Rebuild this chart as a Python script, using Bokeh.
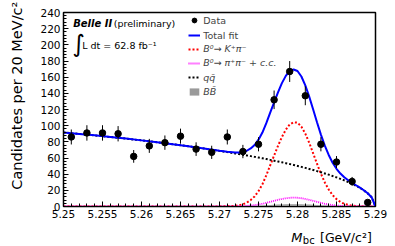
import numpy as np
from bokeh.plotting import figure
from bokeh.layouts import column
from bokeh.models import FixedTicker, Label, Legend, LegendItem, Range1d
from bokeh.embed import file_html
from bokeh.resources import INLINE

# ---------------- data ----------------
MBC = [5.251, 5.253, 5.255, 5.257, 5.259, 5.261, 5.263, 5.265, 5.267, 5.269,
       5.271, 5.273, 5.275, 5.277, 5.279, 5.281, 5.283, 5.285, 5.287, 5.289]
COUNTS = [86, 91, 91, 90, 62, 75, 79, 87, 71, 67,
          86, 68, 77, 132, 167, 137, 77, 55, 31, 5]

FIT_X = [5.250, 5.252, 5.254, 5.256, 5.258, 5.260, 5.262, 5.264, 5.266, 5.268, 5.270, 5.271,
         5.2720, 5.2725, 5.2730, 5.2735, 5.2740, 5.2745, 5.2750, 5.2755, 5.2760, 5.2765,
         5.2770, 5.2775, 5.2780, 5.2785, 5.2790, 5.2795, 5.2800, 5.2805, 5.2810, 5.2815,
         5.2820, 5.2825, 5.2830, 5.2835, 5.2840, 5.2845, 5.2850, 5.2855, 5.2860, 5.2865,
         5.2870, 5.2875, 5.2880, 5.2885, 5.2890, 5.2895, 5.2900]
BKG = [91.6, 89.8, 88.0, 86.0, 84.0, 81.8, 79.5, 77.1, 74.5, 71.8, 68.8, 67.3,
       65.7, 64.9, 64.1, 63.2, 62.3, 61.4, 60.5, 59.6, 58.7, 57.7,
       56.7, 55.7, 54.7, 53.6, 52.5, 51.4, 50.2, 49.0, 47.8, 46.5,
       45.2, 43.8, 42.4, 40.9, 39.4, 37.7, 36.0, 34.2, 32.3, 30.3,
       28.1, 25.7, 23.0, 20.0, 16.3, 11.5, 0.0]
KPI = [0, 0, 0, 0, 0, 0, 0, 0, 0, 0, 0.1, 0.4,
       0.8, 1.5, 2.8, 4.8, 8.0, 12.5, 19.0, 27.5, 38.5, 51.0,
       63.0, 75.0, 86.0, 95.0, 101.5, 104.2, 103.7, 98.8, 90.2, 78.9,
       66.0, 52.9, 40.6, 29.8, 21.0, 14.1, 9.1, 5.6, 3.3, 1.9,
       1.0, 0.5, 0.2, 0.1, 0, 0, 0]
PIPI = [0, 0, 0, 0, 0, 0, 0, 0, 0, 0, 0.02, 0.05,
        0.17, 0.3, 0.48, 0.77, 1.17, 1.73, 2.46, 3.37, 4.45, 5.65,
        6.93, 8.18, 9.31, 10.2, 10.8, 11.0, 10.8, 10.2, 9.31, 8.18,
        6.93, 5.65, 4.45, 3.37, 2.46, 1.73, 1.17, 0.77, 0.48, 0.3,
        0.17, 0.1, 0.05, 0, 0, 0, 0]
BBBAR = [0, 0, 0, 0, 0, 0, 0, 0, 0, 0, 0, 0,
         0.05, 0.1, 0.15, 0.2, 0.3, 0.45, 0.7, 1.0, 1.4, 1.8,
         2.1, 2.4, 2.6, 2.8, 2.9, 2.9, 2.9, 2.8, 2.6, 2.4,
         2.1, 1.8, 1.5, 1.2, 0.9, 0.6, 0.4, 0.2, 0.1, 0.05,
         0, 0, 0, 0, 0, 0, 0]

XTICKS = [5.25, 5.255, 5.26, 5.265, 5.27, 5.275, 5.28, 5.285, 5.29]
XTICK_LABELS = ["5.25", "5.255", "5.26", "5.265", "5.27", "5.275", "5.28", "5.285", "5.29"]
YTICKS = [0, 20, 40, 60, 80, 100, 120, 140, 160, 180, 200, 220, 240]

LEGEND_LABELS = ["Data", "Total fit", "B\u2070\u2192 K\u207a\u03c0\u207b",
                 "B\u2070\u2192 \u03c0\u207a\u03c0\u207b + c.c.", "qq\u0304", "BB\u0304"]
Y_LABEL = "Candidates per 20 MeV/c\u00b2"

# ---------------- main figure ----------------
FONT = "DejaVu Sans"
total = np.array(BKG) + np.array(KPI) + np.array(PIPI) + np.array(BBBAR)
counts = np.array(COUNTS, dtype=float)
err = np.sqrt(counts)

p = figure(width=395, height=226, output_backend="svg", toolbar_location=None,
           x_range=Range1d(5.25, 5.29), y_range=Range1d(0, 240),
           min_border_left=63, min_border_right=20, min_border_top=12, min_border_bottom=20)
p.xgrid.visible = False
p.ygrid.visible = False
p.outline_line_color = "black"
p.outline_line_width = 1.5
p.background_fill_color = "white"
p.border_fill_color = "white"

r_bb = p.varea(x=FIT_X, y1=0, y2=BBBAR, fill_color="#9a9a9a")
r_kpi = p.line(FIT_X, KPI, line_color="#ff0000", line_width=2, line_dash="2 2")
r_pipi = p.line(FIT_X, PIPI, line_color="#ff00ff", line_width=1.8, line_dash="1 1")
r_bkg = p.line(FIT_X, BKG, line_color="black", line_width=2, line_dash="2 2")
r_tot = p.line(FIT_X, total, line_color="#0000ff", line_width=2)
p.segment(MBC, counts - err, MBC, counts + err, line_color="black", line_width=1)
r_data = p.scatter(MBC, COUNTS, size=6.5, color="black")

xax = p.xaxis[0]
yax = p.yaxis[0]
xax.ticker = FixedTicker(ticks=XTICKS,
                         minor_ticks=[round(5.25 + 0.001 * i, 3) for i in range(41)])
xax.major_label_overrides = {t: l for t, l in zip(XTICKS, XTICK_LABELS)}
yax.ticker = FixedTicker(ticks=YTICKS, minor_ticks=list(range(0, 241, 4)))
for ax in (xax, yax):
    ax.major_tick_in = 5
    ax.major_tick_out = 0
    ax.minor_tick_in = 3
    ax.minor_tick_out = 0
    ax.axis_line_color = "black"
    ax.major_tick_line_color = "black"
    ax.minor_tick_line_color = "black"
    ax.major_label_text_font = FONT
    ax.major_label_text_font_size = "10.5px"
    ax.major_label_text_color = "black"
    ax.major_label_standoff = 3

# y axis title: leading no-break spaces lift the visible text as in the reference
yax.axis_label = "\u00a0" * 6 + Y_LABEL
yax.axis_label_text_font = FONT
yax.axis_label_text_font_size = "14.5px"
yax.axis_label_text_font_style = "normal"
yax.axis_label_text_color = "black"
yax.axis_label_standoff = 12

# ---------------- legends ----------------
rows = [(r_data, "normal", 179.7, 12), (r_tot, "normal", 165.0, 12),
        (r_kpi, "italic", 151.3, 12), (r_pipi, "italic", 137.3, 12),
        (r_bkg, "italic", 123.0, 12), (r_bb, "italic", 108.7, 9)]
for (r, st, vy, gh), lab_text in zip(rows, LEGEND_LABELS):
    lg = Legend(items=[LegendItem(label=lab_text, renderers=[r])], location=(125.3, vy),
                padding=0, margin=0, spacing=0, glyph_width=12, glyph_height=gh,
                label_height=12, label_standoff=3, label_text_font=FONT,
                label_text_font_size="9.5px", label_text_font_style=st,
                background_fill_alpha=0, border_line_alpha=0)
    p.add_layout(lg)


def lab(fig, x, y, text, size, style="normal", align="left"):
    fig.add_layout(Label(x=x, y=y, x_units="screen", y_units="screen", text=text,
                         text_font=FONT, text_font_size=size, text_font_style=style,
                         text_align=align, text_baseline="middle", text_color="black"))


lab(p, 9.7, 183, "Belle II", "10px", style="bold italic")
lab(p, 50.3, 183, "(preliminary)", "9.5px")
lab(p, 9, 162.5, "\u222b", "24px")
lab(p, 18.7, 161, "L dt = 62.8 fb\u207b\u00b9", "9.5px")

# ---------------- x-axis title strip (frame aligned with the main frame) ----------------
q = figure(width=395, height=20, output_backend="svg", toolbar_location=None,
           x_axis_type=None, y_axis_type=None, x_range=Range1d(0, 1), y_range=Range1d(0, 1),
           min_border_left=63, min_border_right=0, min_border_top=0, min_border_bottom=0)
q.outline_line_color = None
q.xgrid.visible = False
q.ygrid.visible = False
q.border_fill_color = "white"
q.background_fill_color = "white"
lab(q, 227.7, 9.3, "M", "13px", style="italic")
lab(q, 239.3, 6, "bc", "10px")
lab(q, 256.5, 9.3, "[GeV/c\u00b2]", "12.5px")

layout = column(p, q, spacing=0)
open("out.html", "w").write(file_html(layout, INLINE))
